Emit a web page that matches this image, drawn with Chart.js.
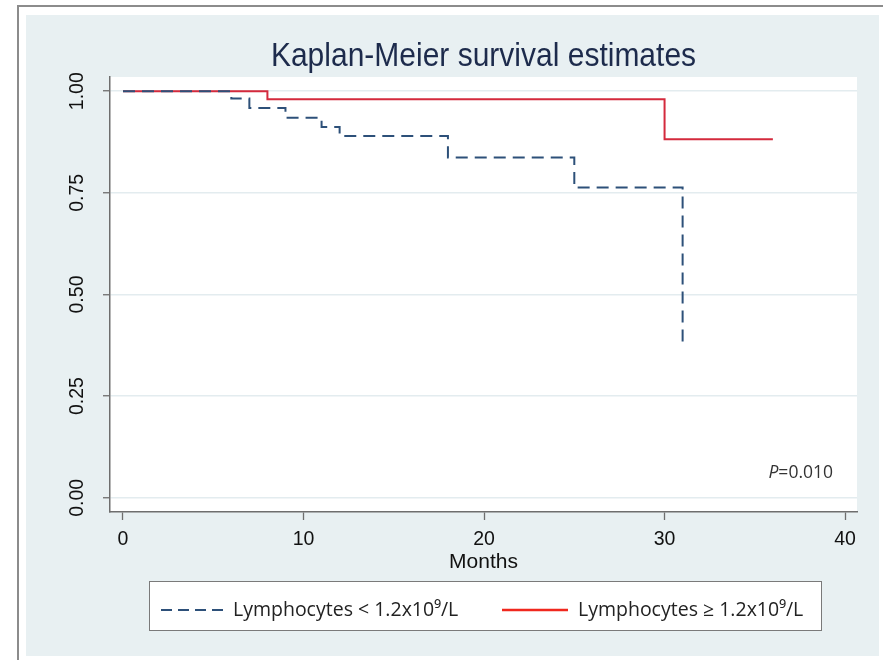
<!DOCTYPE html>
<html>
<head>
<meta charset="utf-8">
<script src="https://cdn.jsdelivr.net/npm/chart.js@4.4.1/dist/chart.umd.min.js"></script>
<style>
  html, body { margin: 0; padding: 0; background: #ffffff; }
  #wrap { width: 883px; height: 660px; position: relative; }
</style>
</head>
<body>
<div id="wrap"><canvas id="c" width="883" height="660"></canvas></div>
<script>
// ---- Data ----
const chartTitle = 'Kaplan-Meier survival estimates';
const xAxisTitle = 'Months';
const seriesLabels = ['Lymphocytes < 1.2x10\u2079/L', 'Lymphocytes \u2265 1.2x10\u2079/L'];
const lowMonths = [0, 6, 7, 9, 11, 12, 18, 25, 31];
const lowSurvival = [1.00, 0.982, 0.959, 0.935, 0.912, 0.890, 0.837, 0.763, 0.382];
const highMonths = [0, 8, 30, 36];
const highSurvival = [1.00, 0.980, 0.882, 0.882];
const xTicks = [0, 10, 20, 30, 40];
const yTicks = [0, 0.25, 0.5, 0.75, 1.0];
const pValueLabel = 'P';
const pValueText = '=0.010';

const toPoints = (xs, ys) => xs.map((x, i) => ({ x: x, y: ys[i] }));

const BLUE = '#2d5079';
const RED = '#d42a3d';
const LEGEND_RED = '#f0281e';
const FRAME_BG = '#e8f0f2';
const AXIS_GRAY = '#6e6e6e';
const SANS = '"Liberation Sans", Arial, sans-serif';

const backgroundPlugin = {
  id: 'bgFrame',
  beforeDraw(chart) {
    const ctx = chart.ctx;
    const a = chart.chartArea;
    ctx.save();
    ctx.fillStyle = '#ffffff';
    ctx.fillRect(0, 0, chart.width, chart.height);
    ctx.fillStyle = '#8c8c8c';
    ctx.fillRect(17, 5, chart.width - 17, 2);
    ctx.fillRect(17, 5, 2, chart.height - 5);
    ctx.fillStyle = FRAME_BG;
    ctx.fillRect(26, 15, 853, 641);
    ctx.fillStyle = '#ffffff';
    ctx.fillRect(a.left, a.top, a.right - a.left, a.bottom - a.top);
    ctx.restore();
  }
};

const annotationPlugin = {
  id: 'kmExtras',
  afterDraw(chart) {
    const ctx = chart.ctx;
    const a = chart.chartArea;
    ctx.save();
    // title, centred over the plot region
    ctx.fillStyle = '#1d2b4c';
    ctx.font = '30px ' + SANS;
    ctx.textAlign = 'center';
    ctx.textBaseline = 'alphabetic';
    ctx.save();
    ctx.translate((a.left + a.right) / 2, 66);
    ctx.scale(1, 1.08);
    ctx.fillText(chartTitle, 0, 0);
    ctx.restore();

    // P value
    ctx.textBaseline = 'middle';
    ctx.textAlign = 'right';
    ctx.fillStyle = '#333333';
    ctx.font = '17.5px "Open Sans"';
    const rightX = 833;
    const py = 473;
    ctx.fillText(pValueText, rightX, py);
    const w = ctx.measureText(pValueText).width;
    ctx.font = 'italic 17.5px "Open Sans"';
    ctx.fillText(pValueLabel, rightX - w, py);

    // legend box
    const bx = 149.5, by = 581.5, bw = 672, bh = 49;
    ctx.fillStyle = '#ffffff';
    ctx.fillRect(bx, by, bw, bh);
    ctx.strokeStyle = '#7a7a7a';
    ctx.lineWidth = 1;
    ctx.strokeRect(bx, by, bw, bh);
    const ly = 610;
    ctx.lineWidth = 2;
    ctx.strokeStyle = BLUE;
    ctx.setLineDash([11, 6]);
    ctx.beginPath(); ctx.moveTo(161, ly); ctx.lineTo(223, ly); ctx.stroke();
    ctx.setLineDash([]);
    ctx.strokeStyle = LEGEND_RED;
    ctx.lineWidth = 2.5;
    ctx.beginPath(); ctx.moveTo(502, ly); ctx.lineTo(568, ly); ctx.stroke();
    ctx.fillStyle = '#222222';
    ctx.font = '19.5px "Open Sans"';
    ctx.textAlign = 'left';
    ctx.fillText(seriesLabels[0], 233, ly);
    ctx.fillText(seriesLabels[1], 578, ly);
    ctx.restore();
  }
};

new Chart(document.getElementById('c'), {
  type: 'line',
  data: {
    datasets: [
      {
        label: seriesLabels[0],
        data: toPoints(lowMonths, lowSurvival),
        borderColor: BLUE,
        borderWidth: 2,
        borderDash: [12, 7],
        stepped: true,
        pointRadius: 0,
        fill: false
      },
      {
        label: seriesLabels[1],
        data: toPoints(highMonths, highSurvival),
        borderColor: RED,
        borderWidth: 2,
        stepped: true,
        pointRadius: 0,
        fill: false
      }
    ]
  },
  options: {
    responsive: false,
    animation: false,
    events: [],
    layout: { padding: { left: 0, right: 26, top: 77, bottom: 85 } },
    plugins: {
      legend: { display: false },
      tooltip: { enabled: false },
      title: { display: false }
    },
    scales: {
      x: {
        type: 'linear',
        min: -0.72,
        max: 40.66,
        afterBuildTicks(scale) { scale.ticks = xTicks.map(v => ({ value: v })); },
        afterFit(scale) { scale.height = 63; scale.paddingLeft = 0; scale.paddingRight = 0; },
        ticks: {
          color: '#111111',
          padding: 8,
          font: { family: SANS, size: 19.5 },
          callback: v => String(v)
        },
        grid: {
          drawOnChartArea: false,
          drawTicks: true,
          tickLength: 8,
          tickColor: AXIS_GRAY,
          tickWidth: 1.3
        },
        border: { display: true, color: AXIS_GRAY, width: 1.5 },
        title: {
          display: true,
          text: xAxisTitle,
          color: '#111111',
          font: { family: SANS, size: 21 },
          padding: { top: 0, bottom: 0 }
        }
      },
      y: {
        type: 'linear',
        min: -0.035,
        max: 1.035,
        afterBuildTicks(scale) { scale.ticks = yTicks.map(v => ({ value: v })); },
        afterFit(scale) { scale.width = 110; scale.paddingTop = 0; scale.paddingBottom = 0; },
        ticks: {
          color: '#111111',
          padding: 6,
          minRotation: 90,
          maxRotation: 90,
          crossAlign: 'center',
          font: { family: SANS, size: 19.5 },
          callback: v => Number(v).toFixed(2)
        },
        grid: {
          drawOnChartArea: true,
          color: '#e3ecef',
          lineWidth: 1.5,
          drawTicks: true,
          tickLength: 7,
          tickColor: AXIS_GRAY,
          tickWidth: 1.3
        },
        border: { display: true, color: AXIS_GRAY, width: 1.5 }
      }
    }
  },
  plugins: [backgroundPlugin, annotationPlugin]
});
</script>
</body>
</html>
